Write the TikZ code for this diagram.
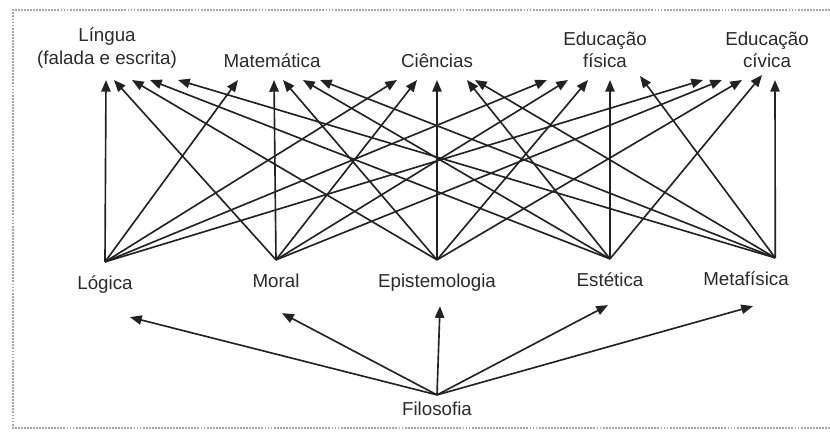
\documentclass[tikz,border=0pt]{standalone}
\usepackage{fontspec}
\setmainfont{Liberation Sans}
\usetikzlibrary{arrows.meta}

\definecolor{ink}{HTML}{222222}
\definecolor{txt}{HTML}{2A2A2A}

\begin{document}
\begin{tikzpicture}[x=0.03cm,y=-0.03cm,
                    term/.style={font=\fontsize{16}{19}\selectfont,text=txt,
                                 text height=12pt,text depth=3.5pt,inner sep=0pt},
                    branch/.style={term,outer sep=12pt},
                    subject/.style={font=\fontsize{16}{19}\selectfont,text=txt,
                                    align=center,inner xsep=0pt,inner ysep=10pt,anchor=south},
                    link/.style={draw=ink,line width=1.4pt,-{Triangle[length=10pt,width=8pt]}},
                    frame/.style={draw=gray!70,line width=1.6pt,densely dotted}]
      \useasboundingbox (0,0) rectangle (830,434);
      \draw[frame] (830,10) -- (13,10) -- (13,428) -- (830,428);

      % subjects
      \node[subject] (lingua) at (107,80) {Língua\\(falada e escrita)};
      \node[subject] (matematica) at (272,80) {Matemática};
      \node[subject] (ciencias) at (437,80) {Ciências};
      \node[subject] (edfisica) at (605,80) {Educação\\física};
      \node[subject] (edcivica) at (767,80) {Educação\\cívica};

      % branches
      \node[branch] (logica) at (105,285) {Lógica};
      \node[branch] (moral) at (276,283) {Moral};
      \node[branch] (epistemologia) at (437,283) {Epistemologia};
      \node[branch] (estetica) at (610,282) {Estética};
      \node[branch] (metafisica) at (746,281) {Metafísica};
      \coordinate (metatop) at ([xshift=25pt]metafisica.north);

      \node[term,outer sep=6pt] (filosofia) at (437,411) {Filosofia};

      % filosofia -> branches
      \draw[link] (filosofia.north) -- ([shift={(25,9)}]logica.south);
      \draw[link] (filosofia.north) -- ([shift={(6,7)}]moral.south);
      \draw[link] (filosofia.north) -- ([shift={(3,0)}]epistemologia.south);
      \draw[link] (filosofia.north) -- ([shift={(-2,0)}]estetica.south);
      \draw[link] (filosofia.north) -- ([shift={(7,2)}]metafisica.south);

      % logica
      \draw[link] (logica.north) -- ([shift={(-1,0)}]lingua.south);
      \draw[link] (logica.north) -- ([shift={(-34,0)}]matematica.south);
      \draw[link] (logica.north) -- ([shift={(-40,0)}]ciencias.south);
      \draw[link] (logica.north) -- ([shift={(-58,0)}]edfisica.south);
      \draw[link] (logica.north) -- ([shift={(-64,0)}]edcivica.south);

      % moral
      \draw[link] (moral.north) -- ([shift={(7,0)}]lingua.south);
      \draw[link] (moral.north) -- ([shift={(2,0)}]matematica.south);
      \draw[link] (moral.north) -- ([shift={(-20,0)}]ciencias.south);
      \draw[link] (moral.north) -- ([shift={(-37,0)}]edfisica.south);
      \draw[link] (moral.north) -- ([shift={(-45,0)}]edcivica.south);

      % epistemologia
      \draw[link] (epistemologia.north) -- ([shift={(25,0)}]lingua.south);
      \draw[link] (epistemologia.north) -- ([shift={(11,0)}]matematica.south);
      \draw[link] (epistemologia.north) -- (ciencias.south);
      \draw[link] (epistemologia.north) -- ([shift={(-17,0)}]edfisica.south);
      \draw[link] (epistemologia.north) -- ([shift={(-25,0)}]edcivica.south);

      % estetica
      \draw[link] (estetica.north) -- ([shift={(43,0)}]lingua.south);
      \draw[link] (estetica.north) -- ([shift={(31,0)}]matematica.south);
      \draw[link] (estetica.north) -- ([shift={(30,0)}]ciencias.south);
      \draw[link] (estetica.north) -- ([shift={(5,0)}]edfisica.south);
      \draw[link] (estetica.north) -- ([shift={(-5,-5)}]edcivica.south);

      % metafisica
      \draw[link] (metatop) -- ([shift={(71,0)}]lingua.south);
      \draw[link] (metatop) -- ([shift={(48,0)}]matematica.south);
      \draw[link] (metatop) -- ([shift={(38,0)}]ciencias.south);
      \draw[link] (metatop) -- ([shift={(35,-4)}]edfisica.south);
      \draw[link] (metatop) -- ([shift={(8,0)}]edcivica.south);
    \end{tikzpicture}
\end{document}
